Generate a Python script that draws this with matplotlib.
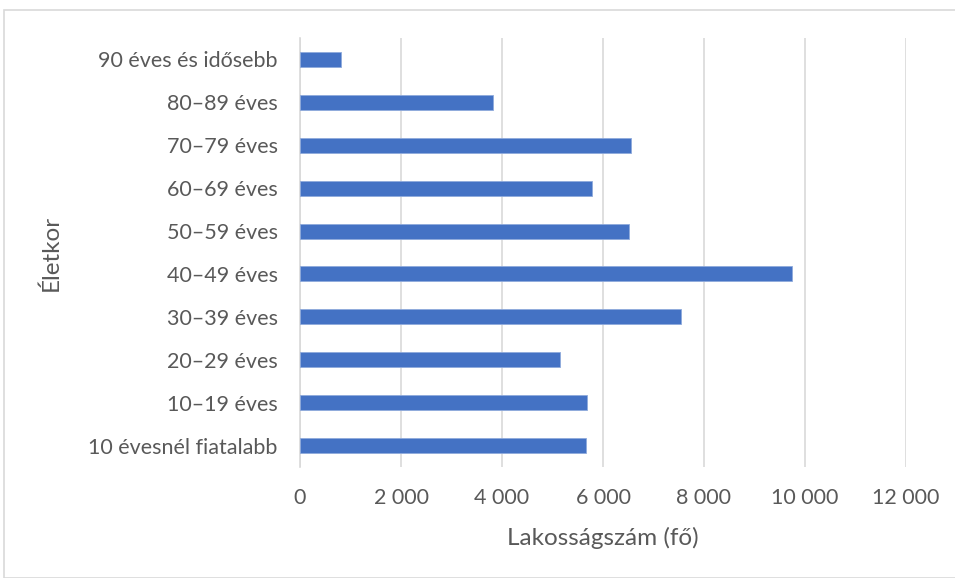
import matplotlib
matplotlib.use("Agg")
import matplotlib.pyplot as plt
from matplotlib.patches import Rectangle
from matplotlib.ticker import FuncFormatter

# Age groups (bottom to top) and population counts
age_groups = [
    "10 évesnél fiatalabb",
    "10–19 éves",
    "20–29 éves",
    "30–39 éves",
    "40–49 éves",
    "50–59 éves",
    "60–69 éves",
    "70–79 éves",
    "80–89 éves",
    "90 éves és idősebb",
]
population = [5655, 5690, 5155, 7535, 9735, 6505, 5790, 6560, 3815, 810]
x_ticks = [0, 2000, 4000, 6000, 8000, 10000, 12000]

plt.rcParams["font.family"] = ["Lato", "DejaVu Sans"]
text_color = "#595959"
grid_color = "#d9d9d9"

fig = plt.figure(figsize=(9.55, 5.78), dpi=100)
ax = fig.add_axes([300 / 955, 1 - 467 / 578, 606 / 955, 429 / 578])

ax.barh(range(len(age_groups)), population, height=0.35,
        color="#4472C4", edgecolor="#8faadc", linewidth=0.6, zorder=3)

ax.set_xlim(0, 12000)
ax.set_ylim(-0.5, len(age_groups) - 0.5)
ax.set_xticks(x_ticks)
ax.xaxis.set_major_formatter(FuncFormatter(lambda v, p: f"{int(v):,}".replace(",", " ")))
ax.set_yticks(range(len(age_groups)))
ax.set_yticklabels(age_groups)

ax.grid(axis="x", color=grid_color, linewidth=1.2, zorder=0)
for s in ["top", "right", "bottom"]:
    ax.spines[s].set_visible(False)
ax.spines["left"].set_color(grid_color)
ax.spines["left"].set_linewidth(1.2)
ax.tick_params(axis="both", length=0, labelsize=15.5, labelcolor=text_color)
ax.tick_params(axis="x", pad=15)
ax.tick_params(axis="y", pad=16)

ax.set_xlabel("Lakosságszám (fő)", fontsize=17.5, color=text_color, labelpad=14)
ax.set_ylabel("Életkor", fontsize=17.5, color=text_color, labelpad=12)
ax.yaxis.set_label_coords(-(300 - 62) / 606, 0.5)

# Chart-area frame
fig.patches.append(Rectangle((4 / 955, 0), 1.0, 1 - 10 / 578, transform=fig.transFigure,
                             fill=False, edgecolor=grid_color, linewidth=1.2))

fig.savefig("out.png", dpi=100, facecolor="white")
